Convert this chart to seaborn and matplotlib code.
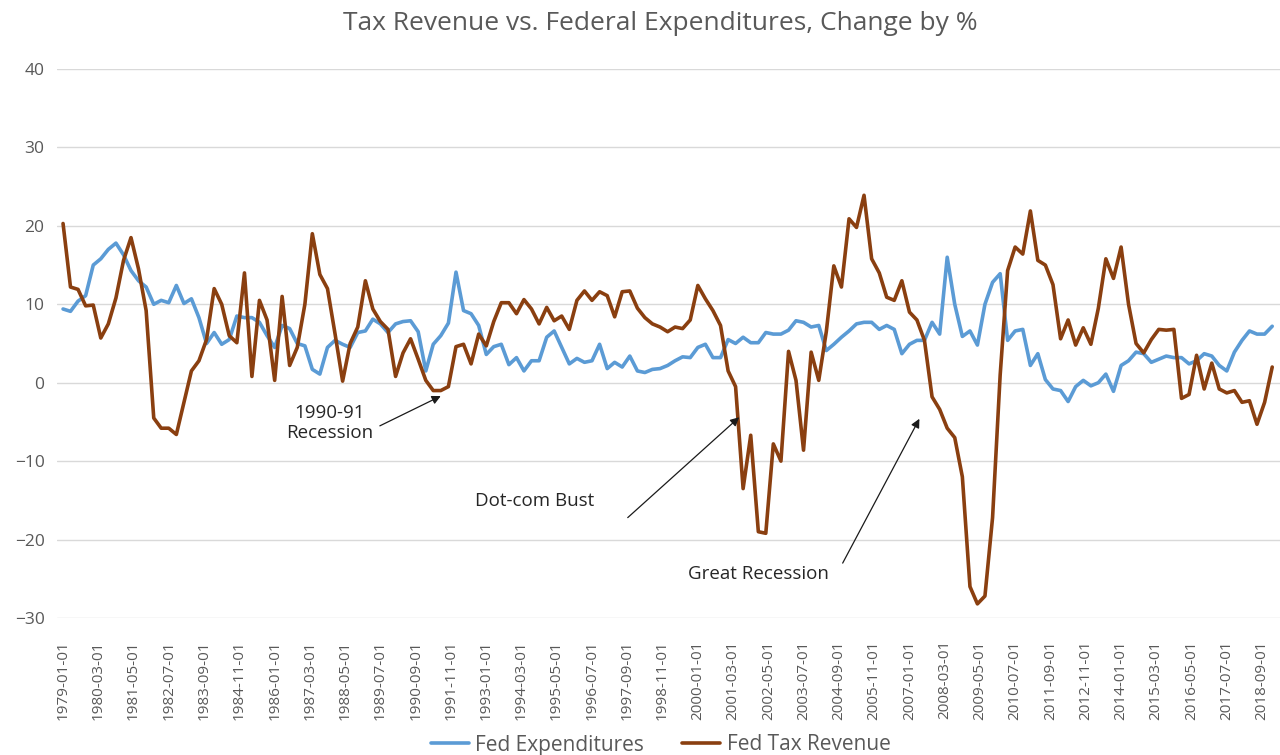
import matplotlib
matplotlib.use("Agg")
import matplotlib.pyplot as plt
import matplotlib.dates as mdates
import pandas as pd
import seaborn as sns

# Quarterly year-over-year change (%), 1979-Q1 .. 2019-Q1
quarters = pd.date_range("1979-01-01", periods=161, freq="QS")

fed_expenditures = [
    9.4, 9.1, 10.4, 11.1, 15.0, 15.8, 17.0, 17.8, 16.3, 14.3, 13.0, 12.2, 10.0, 10.5, 10.2, 12.4, 10.1, 10.7, 8.3, 5.0, 6.4, 4.9,
    5.5, 8.5, 8.3, 8.3, 7.7, 6.0, 4.5, 7.3, 6.9, 5.0, 4.7, 1.7, 1.1, 4.5, 5.4, 4.9, 4.5, 6.4, 6.6, 8.1, 7.5, 6.4,
    7.5, 7.8, 7.9, 6.5, 1.5, 4.9, 6.0, 7.6, 14.1, 9.2, 8.8, 7.3, 3.6, 4.6, 4.9, 2.3, 3.2, 1.5, 2.8, 2.8, 5.8, 6.6,
    4.5, 2.4, 3.1, 2.6, 2.8, 4.9, 1.8, 2.6, 2.0, 3.4, 1.5, 1.3, 1.7, 1.8, 2.2, 2.8, 3.3, 3.2, 4.5, 4.9, 3.2, 3.2,
    5.5, 5.0, 5.8, 5.1, 5.1, 6.4, 6.2, 6.2, 6.7, 7.9, 7.7, 7.1, 7.3, 4.1, 4.9, 5.8, 6.6, 7.5, 7.7, 7.7, 6.8,
    7.3, 6.8, 3.7, 4.9, 5.4, 5.4, 7.7, 6.2, 16.0, 10.0, 5.9, 6.6, 4.8, 10.0, 12.8, 13.9, 5.4, 6.6, 6.8, 2.2, 3.7, 0.4,
    -0.8, -1.0, -2.4, -0.5, 0.3, -0.4, 0.0, 1.1, -1.1, 2.2, 2.8, 3.9, 3.7, 2.6, 3.0, 3.4, 3.2, 3.2, 2.4, 2.8,
    3.7, 3.4, 2.2, 1.5, 3.9, 5.4, 6.6, 6.2, 6.2, 7.2,
]

fed_tax_revenue = [
    20.3, 12.2, 11.9, 9.8, 9.9, 5.7, 7.5, 10.8, 15.6, 18.5, 14.5, 9.2, -4.5, -5.8, -5.8, -6.6, -2.5, 1.5, 2.8, 5.5, 12.0, 10.0,
    6.0, 5.1, 14.0, 0.8, 10.5, 8.0, 0.3, 11.0, 2.2, 4.5, 10.0, 19.0, 13.8, 12.0, 6.2, 0.2, 5.0, 7.1, 13.0, 9.4, 7.8, 6.8,
    0.8, 3.8, 5.6, 3.0, 0.3, -1.0, -1.0, -0.5, 4.6, 4.9, 2.4, 6.2, 4.7, 7.8, 10.2, 10.2, 8.8, 10.6, 9.4, 7.5, 9.6, 7.9,
    8.5, 6.8, 10.5, 11.7, 10.5, 11.6, 11.1, 8.4, 11.6, 11.7, 9.5, 8.3, 7.5, 7.1, 6.5, 7.1, 6.9, 8.0, 12.4, 10.7, 9.2, 7.3,
    1.5, -0.5, -13.5, -6.7, -19.0, -19.2, -7.8, -10.0, 4.0, 0.3, -8.6, 3.9, 0.3, 6.5, 14.9, 12.2, 20.9, 19.8, 23.9, 15.8, 14.0,
    10.9, 10.5, 13.0, 9.0, 8.0, 5.4, -1.8, -3.4, -5.8, -7.0, -12.0, -26.0, -28.2, -27.2, -17.2, 1.0, 14.3, 17.3, 16.4, 21.9, 15.6, 15.0,
    12.5, 5.6, 8.0, 4.8, 7.0, 4.9, 9.5, 15.8, 13.3, 17.3, 10.0, 5.0, 3.8, 5.5, 6.8, 6.7, 6.8, -2.0, -1.5, 3.5,
    -0.8, 2.5, -0.8, -1.3, -1.0, -2.5, -2.3, -5.3, -2.5, 2.0,
]

series_names = ["Fed Expenditures", "Fed Tax Revenue"]
series_colors = ["#5B9BD5", "#8A3F10"]
tick_dates = pd.date_range("1979-01-01", "2018-09-01", freq="14MS")
y_ticks = [-30, -20, -10, 0, 10, 20, 30, 40]

df = pd.concat([
    pd.DataFrame({"date": quarters, "pct": fed_expenditures, "series": series_names[0]}),
    pd.DataFrame({"date": quarters, "pct": fed_tax_revenue, "series": series_names[1]}),
])

sns.set_theme(style="white")
plt.rcParams["font.family"] = ["Open Sans", "DejaVu Sans"]

TXT = "#595959"
fig = plt.figure(figsize=(12.8, 7.55), dpi=100)
ax = fig.add_axes([57 / 1280, 1 - 618 / 755, 1 - 57 / 1280, (618 - 69) / 755])

sns.lineplot(data=df, x="date", y="pct", hue="series", hue_order=series_names,
             palette=series_colors, linewidth=2.6, ax=ax, legend=False)

ax.set_ylim(-30, 40)
ax.set_yticks(y_ticks)
ax.set_xlim(pd.Timestamp("1978-10-20"), pd.Timestamp("2019-04-05"))
ax.set_xticks(tick_dates)
ax.xaxis.set_major_formatter(mdates.DateFormatter("%Y-%m-%d"))
ax.set_xlabel("")
ax.set_ylabel("")
ax.grid(axis="y", color="#D9D9D9", linewidth=1.0)
ax.grid(axis="x", visible=False)
for s in ax.spines.values():
    s.set_visible(False)
ax.tick_params(axis="x", labelrotation=90, length=0, pad=16, labelsize=11, labelcolor=TXT)
ax.tick_params(axis="y", length=0, pad=9, labelsize=12.5, labelcolor=TXT)

fig.text(0.516, 1 - 23 / 755, "Tax Revenue vs. Federal Expenditures, Change by %",
         ha="center", va="center", fontsize=19, color=TXT)

# Recession call-outs
arrow = dict(arrowstyle="-|>", color="#1A1A1A", lw=0.9, mutation_scale=13, shrinkA=0, shrinkB=0)
note_size = 13.5
ax.annotate("", xy=(pd.Timestamp("1991-07-01"), -1.7), xytext=(pd.Timestamp("1989-06-25"), -5.5), arrowprops=arrow)
ax.text(pd.Timestamp("1987-11-01"), -5.1, "1990-91\nRecession", ha="center", va="center",
        fontsize=note_size, color="#262626", linespacing=1.15)
ax.annotate("", xy=(pd.Timestamp("2001-05-15"), -4.4), xytext=(pd.Timestamp("1997-09-06"), -17.2), arrowprops=arrow)
ax.text(pd.Timestamp("1994-08-10"), -15.05, "Dot-com Bust", ha="center", va="center", fontsize=note_size, color="#262626")
ax.annotate("", xy=(pd.Timestamp("2007-05-01"), -4.6), xytext=(pd.Timestamp("2004-10-16"), -23.0), arrowprops=arrow)
ax.text(pd.Timestamp("2002-01-07"), -24.4, "Great Recession", ha="center", va="center", fontsize=note_size, color="#262626")

handles = [plt.Line2D([], [], color=c, linewidth=2.6) for c in series_colors]
fig.legend(handles, series_names, loc="center", bbox_to_anchor=(0.516, 1 - 745 / 755), ncol=2,
           frameon=False, fontsize=15, labelcolor=TXT, handlelength=1.85, columnspacing=1.8, handletextpad=0.3)

fig.savefig("out.png", dpi=100)
